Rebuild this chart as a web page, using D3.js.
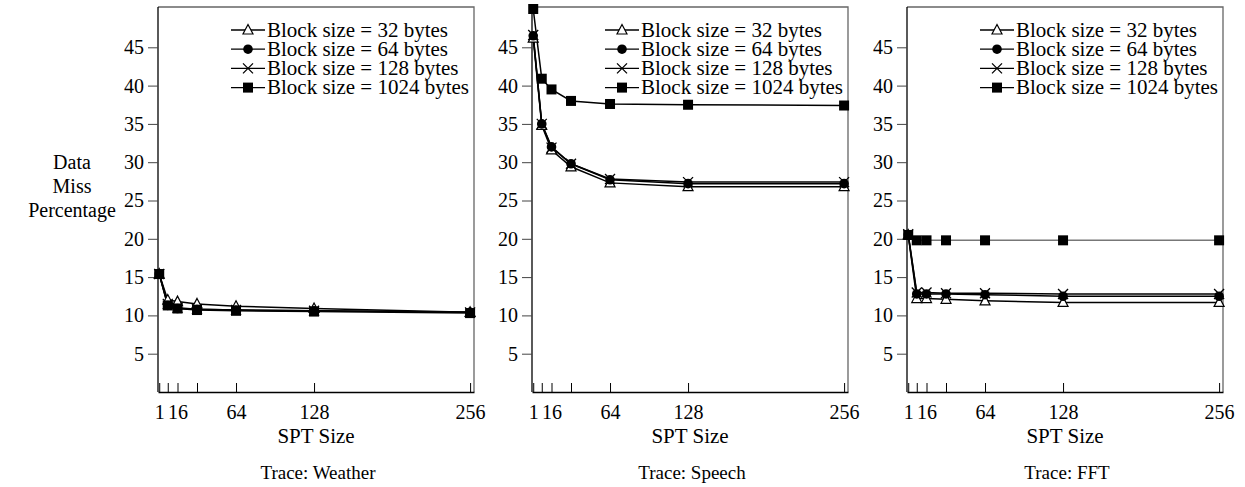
<!DOCTYPE html>
<html>
<head>
<meta charset="utf-8">
<script src="https://cdn.jsdelivr.net/npm/d3@7"></script>
<style>
  body { margin: 0; background: #fff; }
  svg text { font-family: "Liberation Serif", "Times New Roman", serif; fill: #000; }
</style>
</head>
<body>
<svg id="chart" width="1245" height="487"></svg>
<script>
// SPT sizes on the x axis
const sptSizes = [1, 8, 16, 32, 64, 128, 256];
const xTicks = [1, 8, 16, 32, 64, 128, 256];
const xLabeled = [1, 16, 64, 128, 256];
const yTicks = [5, 10, 15, 20, 25, 30, 35, 40, 45];
const blockSizes = [32, 64, 128, 1024];
const traces = ["Weather", "Speech", "FFT"];

// data miss percentage
const weather32   = [15.4, 12.0, 11.8, 11.5, 11.2, 10.9, 10.4];
const weather64   = [15.4, 11.3, 10.9, 10.8, 10.7, 10.6, 10.4];
const weather128  = [15.4, 11.5, 11.0, 10.8, 10.7, 10.6, 10.4];
const weather1024 = [15.4, 11.3, 10.9, 10.7, 10.6, 10.5, 10.3];

const speech32   = [46.2, 34.8, 31.6, 29.4, 27.3, 26.8, 26.8];
const speech64   = [46.5, 35.0, 32.0, 29.8, 27.7, 27.2, 27.2];
const speech128  = [46.6, 35.0, 31.9, 29.8, 27.8, 27.4, 27.4];
const speech1024 = [50.0, 40.9, 39.5, 38.0, 37.6, 37.5, 37.4];

const fft32   = [20.5, 12.2, 12.2, 12.1, 11.9, 11.7, 11.7];
const fft64   = [20.5, 12.8, 12.8, 12.8, 12.7, 12.5, 12.5];
const fft128  = [20.6, 13.0, 13.0, 12.9, 12.9, 12.8, 12.8];
const fft1024 = [20.5, 19.8, 19.8, 19.8, 19.8, 19.8, 19.8];

const panelData = [
    [weather32, weather64, weather128, weather1024],
    [speech32, speech64, speech128, speech1024],
    [fft32, fft64, fft128, fft1024]
];

const svg = d3.select("#chart");
const panelLeft = [158, 532, 907];
const panelW = 316;
const frameTop = 7, frameBottom = 392;
const markers = ["triangle", "circle", "cross", "square"];

const x = d3.scaleLinear().domain([0, 259.2]).range([0, panelW]);
const y = d3.scaleLinear().domain([0, 50]).range([frameBottom, 9]);

function drawMarker(g, kind, cx, cy){
    if (kind === "triangle"){
        g.append("path")
         .attr("d", `M${cx},${cy - 5.5} L${cx + 5},${cy + 4} L${cx - 5},${cy + 4} Z`)
         .attr("fill", "#fff").attr("stroke", "#000").attr("stroke-width", 1.2);
    } else if (kind === "circle"){
        g.append("circle").attr("cx", cx).attr("cy", cy).attr("r", 4.8).attr("fill", "#000");
    } else if (kind === "cross"){
        g.append("path")
         .attr("d", `M${cx - 5},${cy - 5} L${cx + 5},${cy + 5} M${cx - 5},${cy + 5} L${cx + 5},${cy - 5}`)
         .attr("stroke", "#000").attr("stroke-width", 1.3);
    } else {
        g.append("rect").attr("x", cx - 5).attr("y", cy - 5).attr("width", 10).attr("height", 10).attr("fill", "#000");
    }
}

// y axis title, left of first panel only
const ytitle = svg.append("text").attr("text-anchor", "middle").attr("font-size", 20);
["Data", "Miss", "Percentage"].forEach(function(t, i){
    ytitle.append("tspan").attr("x", 72).attr("y", 169 + i * 24).text(t);
});

traces.forEach(function(trace, p){
    const g = svg.append("g").attr("transform", `translate(${panelLeft[p]},0)`);

    // frame, grey on top and right
    g.append("path")
     .attr("d", `M0,${frameTop} H${panelW} V${frameBottom}`)
     .attr("fill", "none").attr("stroke", "#666").attr("stroke-width", 1.3);

    const yAxis = g.append("g")
        .call(d3.axisLeft(y).tickValues(yTicks).tickSize(10).tickPadding(4).tickSizeOuter(0));
    yAxis.select(".domain").attr("d", `M0,${frameTop}V${frameBottom}`).attr("stroke-width", 1.3);
    yAxis.selectAll("line").attr("stroke", "#444");
    yAxis.selectAll("text").attr("font-size", 20).attr("font-family", null);

    const xAxis = g.append("g").attr("transform", `translate(0,${frameBottom})`)
        .call(d3.axisBottom(x).tickValues(xTicks).tickSizeInner(-9).tickSizeOuter(0).tickPadding(13)
              .tickFormat(function(d){ return xLabeled.includes(d) ? d : ""; }));
    xAxis.select(".domain").attr("stroke-width", 1.3);
    xAxis.selectAll("text").attr("font-size", 20).attr("font-family", null);

    const series = panelData[p];
    series.forEach(function(vals, s){
        const pts = sptSizes.map(function(d, i){ return [x(d), y(vals[i])]; });
        const grey = (p === 2 && s === 3);
        g.append("path")
         .attr("d", d3.line()(pts))
         .attr("fill", "none")
         .attr("stroke", grey ? "#777" : "#000")
         .attr("stroke-width", 1.5);
    });
    [0, 2, 1, 3].forEach(function(s){
        const vals = series[s];
        sptSizes.forEach(function(d, i){
            drawMarker(g, markers[s], x(d), y(vals[i]));
        });
    });

    // legend
    const lg = g.append("g");
    blockSizes.forEach(function(b, i){
        const ly = 30 + i * 19.2;
        lg.append("line").attr("x1", 73).attr("x2", 107).attr("y1", ly).attr("y2", ly)
          .attr("stroke", "#000").attr("stroke-width", 1.3);
        drawMarker(lg, markers[i], 90, ly);
        lg.append("text").attr("x", 109).attr("y", ly + 6.5).attr("font-size", 21)
          .text(`Block size = ${b} bytes`);
    });

    g.append("text").attr("x", panelW / 2).attr("y", 443).attr("text-anchor", "middle")
     .attr("font-size", 21).text("SPT Size");
    g.append("text").attr("x", panelW / 2 + 2).attr("y", 479).attr("text-anchor", "middle")
     .attr("font-size", 19).text(`Trace: ${trace}`);
});
</script>
</body>
</html>
